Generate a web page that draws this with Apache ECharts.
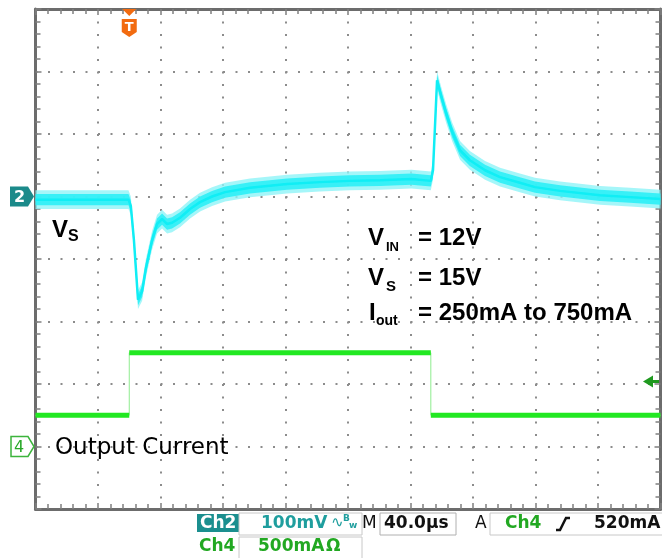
<!DOCTYPE html>
<html><head><meta charset="utf-8">
<script src="https://cdn.jsdelivr.net/npm/echarts@6/dist/echarts.min.js"></script>
<style>html,body{margin:0;padding:0;background:#fff}#c{width:662px;height:558px}</style>
</head><body><div id="c"></div>
<script>
// Time from the left edge of the screen, µs (40 µs/div, trigger at 60 µs)
const vsTimeUs = [0, 41, 59.5, 61, 63, 65.6, 68.2, 70.7, 74.6, 77.8, 81, 84.2, 87.4, 92.5, 98.9, 105.3, 113, 121.3, 137.3, 161, 182, 201, 220.5, 240.6, 253, 254.4, 257, 259.5, 262.7, 266.6, 271.7, 278, 287.7, 297.3, 310, 319.7, 335.7, 361.3, 380.5, 400];
// Ch2 (V_S, AC view) in mV, 100 mV/div
const vsMilliV = [-5, -5, -5, -15, -70, -165, -152, -114, -70, -44, -36, -44, -42, -34, -20, -9, 0, 7, 14, 20, 23, 25, 26, 28, 25, 42, 186, 162, 134, 104, 74, 58, 42, 31, 22, 15, 9, 2, -1, -4];
// Ch4 output current in mA, 500 mA/div
const ioutTimeUs = [0, 60, 60, 253, 253, 400];
const ioutMilliA = [250, 250, 750, 750, 250, 250];
const triggerLevelMilliA = 520;

const NOISE_OUT = 15, NOISE_IN = 9;

const chart = echarts.init(document.getElementById('c'), null, {renderer: 'canvas'});
const vsPts = vsTimeUs.map((t, i) => [t, vsMilliV[i]]);
const iThin = ioutTimeUs.map((t, i) => [t, ioutMilliA[i]]);
const iThick = [];
for (let i = 0; i < ioutTimeUs.length; i++) {
  if (i > 0 && ioutTimeUs[i] === ioutTimeUs[i - 1]) iThick.push([ioutTimeUs[i], '-']);
  iThick.push([ioutTimeUs[i], ioutMilliA[i]]);
}
function band(h, fill, op) {
  return {
    type: 'custom', xAxisIndex: 0, yAxisIndex: 0, silent: true, z: 3,
    data: [vsPts[0]], encode: {x: 0, y: 1},
    renderItem: function (params, api) {
      const up = [], lo = [];
      for (let i = 0; i < vsTimeUs.length; i++) {
        up.push(api.coord([vsTimeUs[i], vsMilliV[i] + h]));
        lo.push(api.coord([vsTimeUs[i], vsMilliV[i] - h]));
      }
      return {type: 'polygon', shape: {points: up.concat(lo.reverse())}, style: {fill: fill, opacity: op}};
    }
  };
}
const gridLine = {show: true, lineStyle: {color: '#8c8c8c', width: 2, type: [2, 10.5]}};
const tick = {show: true, inside: true, length: 6, lineStyle: {color: '#808080', width: 1.5}};
const minor = {show: true, splitNumber: 5, length: 5, lineStyle: {color: '#808080', width: 1.5}};
const border = {show: true, onZero: false, lineStyle: {color: '#6c6c6c', width: 3}};
const ts = {fontFamily: 'DejaVu Sans', fontWeight: 'bold', fontSize: 17};

chart.setOption({
  animation: false,
  grid: {left: 35.5, top: 9, width: 625, height: 500},
  xAxis: [
    {type: 'value', min: 0, max: 400, interval: 40, position: 'bottom', axisLine: border, axisTick: tick, minorTick: minor, axisLabel: {show: false}, splitLine: gridLine},
    {type: 'value', min: 0, max: 400, interval: 40, position: 'top', axisLine: border, axisTick: tick, minorTick: minor, axisLabel: {show: false}, splitLine: {show: false}}
  ],
  yAxis: [
    {type: 'value', min: -500, max: 300, interval: 100, position: 'left', axisLine: border, axisTick: tick, minorTick: minor, axisLabel: {show: false}, splitLine: gridLine},
    {type: 'value', min: -500, max: 3500, interval: 500, position: 'right', axisLine: border, axisTick: tick, minorTick: minor, axisLabel: {show: false}, splitLine: {show: false}}
  ],
  series: [
    band(NOISE_OUT, '#8ff4f8', 0.8),
    band(NOISE_IN, '#2cf0f6', 0.9),
    {type: 'line', name: 'VS', data: vsPts, xAxisIndex: 0, yAxisIndex: 0, showSymbol: false, z: 4,
     lineStyle: {color: '#10eef5', width: 2.5}},
    {type: 'line', name: 'Iout thin', data: iThin, xAxisIndex: 0, yAxisIndex: 1, showSymbol: false, z: 4,
     lineStyle: {color: '#8eec8e', width: 1}},
    {type: 'line', name: 'Iout', data: iThick, xAxisIndex: 0, yAxisIndex: 1, showSymbol: false, connectNulls: false, z: 5,
     lineStyle: {color: '#22e822', width: 5}}
  ]
});

const y2 = chart.convertToPixel({yAxisIndex: 0}, 0);
const y4 = chart.convertToPixel({yAxisIndex: 1}, 0);
const yTrig = chart.convertToPixel({yAxisIndex: 1}, triggerLevelMilliA);
const xTrig = chart.convertToPixel({xAxisIndex: 0}, vsTimeUs[2] + 0.5);

function txt(x, y, text, size, opts) {
  return Object.assign({type: 'text', x: x, y: y, z: 100,
    style: Object.assign({text: text, fontSize: size, fontFamily: 'Liberation Sans', fill: '#000', verticalAlign: 'middle', align: 'left'}, opts || {})});
}
const B = {fontWeight: 'bold'};
const g = [
  // channel 2 marker
  {type: 'polygon', z: 100, shape: {points: [[10, y2 - 10], [28, y2 - 10], [34, y2], [28, y2 + 10], [10, y2 + 10]]}, style: {fill: '#1b8a8a'}},
  txt(14, y2 + 1, '2', 16, {fill: '#fff', fontFamily: 'DejaVu Sans', fontWeight: 'bold'}),
  // channel 4 marker
  {type: 'polygon', z: 100, shape: {points: [[11, y4 - 10], [28, y4 - 10], [34, y4], [28, y4 + 10], [11, y4 + 10]]}, style: {fill: '#fff', stroke: '#3cb43c', lineWidth: 1.5}},
  txt(14, y4 + 1, '4', 16, {fill: '#2aa82a', fontFamily: 'DejaVu Sans'}),
  // trigger marker
  {type: 'polygon', z: 100, shape: {points: [[xTrig - 7, 9], [xTrig + 7, 9], [xTrig, 16]]}, style: {fill: '#f26b10'}},
  {type: 'polygon', z: 100, shape: {points: [[xTrig - 7.5, 19], [xTrig + 7.5, 19], [xTrig + 7.5, 32], [xTrig, 37], [xTrig - 7.5, 32]]}, style: {fill: '#f26b10'}},
  txt(xTrig, 27.5, 'T', 13, {fill: '#fff', fontFamily: 'DejaVu Sans', fontWeight: 'bold', align: 'center'}),
  // trigger level arrow
  {type: 'polygon', z: 110, shape: {points: [[643, yTrig], [653, yTrig - 6], [653, yTrig + 6]]}, style: {fill: '#1f9a1f'}},
  {type: 'rect', z: 110, shape: {x: 652, y: yTrig - 1.5, width: 7, height: 3}, style: {fill: '#1f9a1f'}},
  // annotations
  txt(52, 230, 'V', 24, B),
  txt(68, 237, 'S', 16, B),
  txt(368, 238.5, 'V', 24, B),
  txt(386, 247, 'IN', 13, B),
  txt(418, 238.5, '= 12V', 24, B),
  txt(368, 278.5, 'V', 24, B),
  txt(386, 287, 'S', 15, B),
  txt(418, 278.5, '= 15V', 24, B),
  txt(369, 313, 'I', 24, B),
  txt(376, 321, 'out', 14, B),
  txt(418, 313, '= 250mA to 750mA', 24, B),
  txt(55, 448, 'Output Current', 23, {fontFamily: 'DejaVu Sans'}),
  // status bar
  {type: 'rect', z: 100, shape: {x: 197, y: 514, width: 42, height: 18}, style: {fill: '#1b8f8f'}},
  txt(200, 523.5, 'Ch2', 17, Object.assign({fill: '#fff'}, ts)),
  {type: 'rect', z: 100, shape: {x: 239, y: 513, width: 123, height: 22}, style: {fill: 'none', stroke: '#c8c8c8', lineWidth: 1}},
  txt(261, 523.5, '100mV', 17, Object.assign({fill: '#1f9e9e'}, ts)),
  txt(331, 523, '∿', 15, {fill: '#1f9e9e', fontFamily: 'DejaVu Sans'}),
  txt(343, 519, 'B', 9, {fill: '#1f9e9e', fontFamily: 'DejaVu Sans', fontWeight: 'bold'}),
  txt(349, 526, 'w', 9, {fill: '#1f9e9e', fontFamily: 'DejaVu Sans', fontWeight: 'bold'}),
  txt(362, 523.5, 'M', 17, {fill: '#111', fontFamily: 'DejaVu Sans'}),
  {type: 'rect', z: 100, shape: {x: 380, y: 513, width: 76, height: 22}, style: {fill: 'none', stroke: '#b0b0b0', lineWidth: 1}},
  txt(384, 523.5, '40.0µs', 17, Object.assign({fill: '#111'}, ts)),
  txt(475, 523.5, 'A', 17, {fill: '#111', fontFamily: 'DejaVu Sans'}),
  {type: 'rect', z: 100, shape: {x: 490, y: 513, width: 175, height: 22}, style: {fill: 'none', stroke: '#c8c8c8', lineWidth: 1}},
  txt(505, 523.5, 'Ch4', 17, Object.assign({fill: '#22a822'}, ts)),
  {type: 'polyline', z: 100, shape: {points: [[556, 530], [560, 530], [566, 518], [570, 518]]}, style: {stroke: '#111', lineWidth: 2.5, fill: 'none'}},
  txt(594, 523.5, '520mA', 17, Object.assign({fill: '#111'}, ts)),
  txt(199, 547, 'Ch4', 17, Object.assign({fill: '#22a822'}, ts)),
  {type: 'rect', z: 100, shape: {x: 239, y: 537, width: 123, height: 24}, style: {fill: 'none', stroke: '#c8c8c8', lineWidth: 1}},
  txt(258, 547, '500mA', 17, Object.assign({fill: '#22a822'}, ts)),
  txt(326, 547, 'Ω', 17, Object.assign({fill: '#22a822'}, ts))
];
chart.setOption({graphic: g});
</script>
</body></html>
